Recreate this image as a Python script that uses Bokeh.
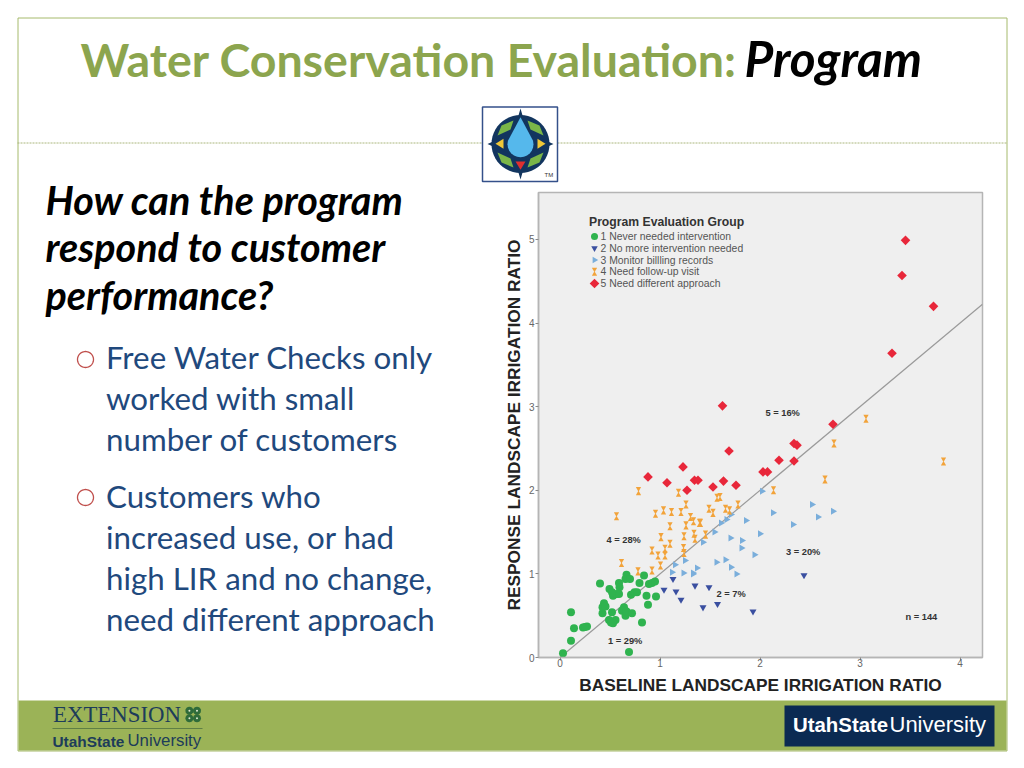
import math
from bokeh.core.properties import value
from bokeh.embed import file_html
from bokeh.models import ColumnDataSource, FixedTicker, Label, Range1d
from bokeh.plotting import figure
from bokeh.resources import INLINE
from bokeh.transform import dodge

# ---------- data ----------
group_names = ["1 Never needed intervention", "2 No more intervention needed", "3 Monitor billling records",
               "4 Need follow-up visit", "5 Need different approach"]
g1_x = [0.03,0.69,0.11,0.14,0.23,0.27,0.25,0.11,0.40,0.425,0.44,0.425,0.455,0.49,0.52,0.51,0.555,0.53,0.64,0.62,0.655,0.665,0.72,0.82,0.88,0.96,0.865,0.71,0.745,0.77,0.495,0.59,0.595,0.53,0.565,0.59,0.52,0.665,0.655,0.70,0.795,0.84,0.89,0.92,0.95]
g1_y = [0.05,0.065,0.20,0.35,0.36,0.37,0.365,0.54,0.885,0.53,0.65,0.60,0.61,0.45,0.54,0.42,0.45,0.41,0.60,0.56,0.50,0.55,0.53,0.42,0.63,0.73,0.74,0.75,0.78,0.78,0.82,0.89,0.84,0.74,0.76,0.76,0.78,0.99,0.94,0.94,0.89,0.98,0.88,0.89,0.91]
g2_x = [1.13,1.04,1.16,1.21,1.35,1.49,1.43,1.575,2.44,1.93]
g2_y = [0.94,0.81,0.79,0.69,0.86,0.84,0.60,0.64,0.985,0.55]
g3_x = [2.02,2.52,2.13,2.73,2.58,1.86,2.33,2.0,1.705,1.82,1.815,1.945,1.565,1.655,1.71,1.765,1.37,1.33,1.43,1.545,1.61,1.665,1.71,1.15,1.25,1.12,1.235,1.33]
g3_y = [1.99,1.83,1.73,1.75,1.68,1.64,1.59,1.48,1.43,1.40,1.31,1.23,1.14,1.17,1.08,1.0,1.07,1.01,1.38,1.50,1.61,1.65,1.71,1.11,1.16,1.02,1.01,1.0]
g4_x = [0.785,0.565,1.185,1.26,0.955,1.035,1.115,1.21,1.305,1.335,1.26,1.395,1.10,1.01,1.24,1.34,1.35,1.10,0.92,1.05,1.235,0.98,1.05,0.615,0.78,0.92,1.005,1.24,2.74,2.65,2.135,1.78,1.57,1.60,1.49,1.53,1.655,1.695,1.405,1.455,3.06,3.835]
g4_y = [1.99,1.69,1.97,1.83,1.72,1.76,1.74,1.74,1.68,1.63,1.58,1.61,1.57,1.44,1.45,1.48,1.42,1.36,1.28,1.30,1.31,1.22,1.22,1.13,1.03,1.04,1.10,1.25,2.56,2.13,2.0,1.83,1.91,1.92,1.78,1.73,1.78,1.76,1.61,1.47,2.855,2.345]
g5_x = [3.455,3.42,3.735,3.32,2.73,1.625,1.69,2.19,2.34,2.34,2.37,2.03,2.075,1.345,1.38,1.53,1.635,1.76,0.88,1.07,1.23,1.27]
g5_y = [4.99,4.57,4.20,3.64,2.79,3.01,2.47,2.36,2.35,2.56,2.54,2.22,2.22,2.12,2.12,2.04,2.11,2.06,2.16,2.09,2.28,2.0]
reference_x = [0, 4.225]
reference_y = [0, 4.225]
x_ticks = [0, 1, 2, 3, 4]
y_ticks = [0, 1, 2, 3, 4, 5]
notes = [("5 = 16%", 2.055, 2.92), ("4 = 28%", 0.465, 1.41), ("3 = 20%", 2.26, 1.256),
         ("2 = 7%", 1.565, 0.754), ("n = 144", 3.455, 0.49), ("1 = 29%", 0.48, 0.195)]
legend_title = "Program Evaluation Group"
x_title = "BASELINE LANDSCAPE IRRIGATION RATIO"
y_title = "RESPONSE LANDSCAPE IRRIGATION RATIO"
slide_title = "Water Conservation Evaluation:"
slide_title_em = "Program"
question = ["How can the program", "respond to customer", "performance?"]
bullet_lines = ["Free Water Checks only", "worked with small", "number of customers", "Customers who",
                "increased use, or had", "high LIR and no change,", "need different approach"]

# ---------- slide background: a figure whose scale is the page's pixels ----------
W, H = 1020, 760
BASELINE_SHIFT = 0.42   # how far below y this renderer puts an "alphabetic" baseline, in ems
bg = figure(width=W, height=H, output_backend="svg", toolbar_location=None, x_range=Range1d(0, W), y_range=Range1d(H, 0),
            x_axis_location=None, y_axis_location=None, min_border=0, outline_line_color=None)
bg.grid.visible = False

def txt(px, py, s, font="Lato", size=31.5, color="#1f497d", style="normal"):
    nudge = 3 if font == "Lato" else 2
    bg.text([px], [py + nudge - BASELINE_SHIFT * size], text=[s], text_font=value(font), text_font_size=value(f"{size}px"),
            text_font_style=style, text_color=color, text_baseline="alphabetic")

def ring(cx, cy, r, n=48):
    return [cx + r*math.cos(2*math.pi*i/n) for i in range(n)], [cy + r*math.sin(2*math.pi*i/n) for i in range(n)]

def poly(xs, ys, fill, line=None, lw=1):
    bg.patch(xs, ys, fill_color=fill, line_color=line, line_width=lw)

def box(x0, y0, x1, y1, fill, line=None, lw=1):
    poly([x0, x1, x1, x0], [y0, y0, y1, y1], fill, line, lw)

OLIVE = "#9bb357"
bg.quad(left=[17.5], right=[1006.5], top=[17.5], bottom=[750.5], fill_alpha=0, line_color="#a6ba6c", line_width=1)
box(18, 700, 1006, 750, OLIVE)
bg.line([17, 1006], [142.5, 142.5], line_color="#aab67c", line_width=1, line_dash="2 1")

txt(80, 75, slide_title, size=46.5, color="#8ca54e", style="bold")
txt(744, 75, slide_title_em, size=49.5, color="#000000", style="bold italic")
for py, s in zip((213, 260, 308), question):
    txt(45, py, s, size=39.5, color="#000000", style="bold italic")
for py, s in zip((367, 408, 449, 506, 547, 588, 629), bullet_lines):
    txt(105.5, py, s, size=31.3)
for cy in (359, 497):
    xs, ys = ring(85, cy, 8)
    poly(xs, ys, "white", "#c0504d", 1.3)

# compass logo
box(482, 106.5, 557, 181, "white", "#34508a", 1.5)
xs, ys = ring(520, 143.5, 29)
poly(xs, ys, "#12355f")
poly([520, 527, 553, 527, 520, 513, 487, 513], [108, 132, 143.5, 155, 179, 155, 143.5, 132], "#12355f")
for sxn in (-1, 1):
    poly([520 + sxn*v for v in (23, 19, 7, 10)], [135, 125, 120, 129], "#7ab648")
    poly([520 + sxn*v for v in (23, 19, 7, 10)], [152, 162, 167, 158], "#7ab648")
    poly([520 + sxn*v for v in (25, 17, 17)], [143.3, 138.3, 148.3], "#f0c838")
poly([515, 525, 520], [161, 161, 169.3], "#e02f2f")
ang = [a/12*math.pi for a in range(-1, 14)]
poly([520] + [520 + 13*math.cos(a) for a in ang], [116.7] + [143.7 + 13*math.sin(a) for a in ang], "#55b8ec")
txt(544, 175, "TM", font="Liberation Sans", size=6, color="#333333")

# footer logos
txt(52.5, 721.5, "EXTENSION", font="Liberation Serif", size=22.8, color="#1d3c5a")
for dx, dy in ((-3.8, -3.8), (3.8, -3.8), (-3.8, 3.8), (3.8, 3.8)):
    xs, ys = ring(192.7 + dx, 714 + dy, 4, 16)
    poly(xs, ys, "#2f6b3a")
    xs, ys = ring(192.7 + dx, 714 + dy, 1, 8)
    poly(xs, ys, "#dfe8d0")
box(52, 727.5, 202, 728.5, "#5f7f45")
txt(52, 745, "UtahState", font="Liberation Sans", size=15.4, color="#1d3c5a", style="bold")
txt(127, 745, "University", font="Liberation Sans", size=16.8, color="#1d3c5a")
box(784, 705, 994, 746, "#0b2a52")
txt(792.5, 731, "UtahState", font="Liberation Sans", size=20.4, color="#ffffff", style="bold")
txt(889, 731, "University", font="Liberation Sans", size=22, color="#ffffff")

# ---------- the chart, laid over the slide ----------
C_LEFT, C_TOP = 490, 185           # page position of the chart figure
FRAME_LEFT, FRAME_BOTTOM = 538, 657
X_START, X_END, Y_START, Y_END = -0.215, 4.225, 0, 5.562
p = figure(width=510, height=513, output_backend="svg", toolbar_location=None,
           x_range=Range1d(X_START, X_END), y_range=Range1d(Y_START, Y_END),
           min_border_left=48, min_border_right=18, min_border_top=7, min_border_bottom=41)
p.margin = (C_TOP - H, 0, 0, C_LEFT)
p.background_fill_color = "#efefef"
p.border_fill_alpha = 0
p.outline_line_color = "#b5b5b5"
p.outline_line_width = 1.5
p.grid.visible = False

for ax, ticks, title in ((p.xaxis[0], x_ticks, x_title), (p.yaxis[0], y_ticks, y_title)):
    ax.ticker = FixedTicker(ticks=ticks)
    ax.axis_label = title
    ax.axis_label_text_font = "Liberation Sans"
    ax.axis_label_text_font_style = "bold"
    ax.axis_label_text_font_size = "17.3px"
    ax.axis_label_text_color = "#222222"
    ax.major_label_text_font = "Liberation Sans"
    ax.major_label_text_font_size = "10px"
    ax.major_label_text_color = "#666666"
    ax.axis_line_color = "#b5b5b5"
    ax.axis_line_width = 1.5
    ax.major_tick_line_color = "#888888"
    ax.major_tick_out = 3
    ax.major_tick_in = 0
    ax.minor_tick_line_color = None
p.xaxis[0].major_label_standoff = -2
p.yaxis[0].major_label_standoff = 1
p.xaxis[0].axis_label_standoff = 5
p.yaxis[0].axis_label_standoff = 2

p.line(reference_x, reference_y, line_color="#9a9a9a", line_width=1.2)

GREEN, NAVY, SKY, ORANGE, RED = "#2fb34f", "#3a4fa0", "#7aaedb", "#f2a33a", "#e8273a"

def hourglass(source):
    p.scatter("x", dodge("y", 0.03, range=p.y_range), source=source, marker="inverted_triangle", size=5.3, fill_color=ORANGE, line_color=None)
    p.scatter("x", dodge("y", -0.03, range=p.y_range), source=source, marker="triangle", size=5.3, fill_color=ORANGE, line_color=None)

p.scatter(g1_x, g1_y, marker="circle", size=8, fill_color=GREEN, line_color=None)
p.scatter(g2_x, g2_y, marker="inverted_triangle", size=7, fill_color=NAVY, line_color=None)
p.scatter(g3_x, g3_y, marker="triangle", size=7, angle=-math.pi/2, fill_color=SKY, line_color=None)
hourglass(ColumnDataSource(dict(x=g4_x, y=g4_y)))
p.scatter(g5_x, g5_y, marker="square", size=6.8, angle=math.pi/4, fill_color=RED, line_color=None)

# legend: keys placed 594 px across the page, rows 11.75 px apart from 236 px down, mapped through the chart's scale
def data_x(px):
    return X_START + (px - FRAME_LEFT) / 444 * (X_END - X_START)

def data_y(py):
    return Y_START + (FRAME_BOTTOM - py) / 465 * (Y_END - Y_START)

key_x = data_x(594)
key_y = [data_y(236 + i * 11.75) for i in range(5)]
p.scatter([key_x], [key_y[0]], marker="circle", size=7, fill_color=GREEN, line_color=None)
p.scatter([key_x], [key_y[1]], marker="inverted_triangle", size=6.5, fill_color=NAVY, line_color=None)
p.scatter([key_x], [key_y[2]], marker="triangle", size=6.5, angle=-math.pi/2, fill_color=SKY, line_color=None)
hourglass(ColumnDataSource(dict(x=[key_x], y=[key_y[3]])))
p.scatter([key_x], [key_y[4]], marker="square", size=6.8, angle=math.pi/4, fill_color=RED, line_color=None)
for name, ky in zip(group_names, key_y):
    p.add_layout(Label(x=data_x(600), y=ky, text=name, text_font="Liberation Sans", text_font_size="10.4px",
                       text_color="#555555", text_baseline="middle"))
p.add_layout(Label(x=data_x(588.5), y=data_y(221), text=legend_title, text_font="Liberation Sans",
                   text_font_style="bold", text_font_size="12.2px", text_color="#333333", text_baseline="middle"))

for s, x, y in notes:
    p.add_layout(Label(x=x, y=y, text=s, text_font="Liberation Sans", text_font_style="bold",
                       text_font_size="9.3px", text_color="#333333", text_baseline="middle"))

open("out.html", "w").write(file_html([bg, p], INLINE))
